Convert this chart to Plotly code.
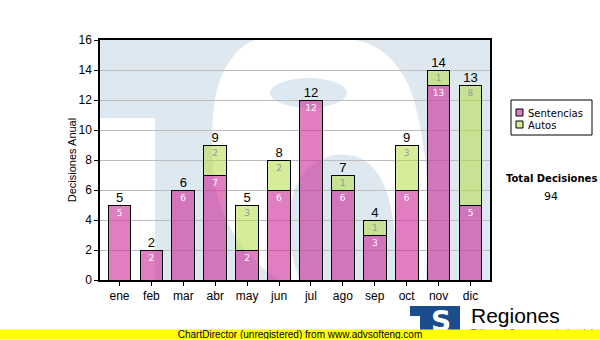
import plotly.graph_objects as go

# Monthly decisions, split by type
months = ["ene", "feb", "mar", "abr", "may", "jun", "jul", "ago", "sep", "oct", "nov", "dic"]
sentencias = [5, 2, 6, 7, 2, 6, 12, 6, 3, 6, 13, 5]
autos = [0, 0, 0, 2, 3, 2, 0, 1, 1, 3, 1, 8]
totals = [s + a for s, a in zip(sentencias, autos)]
y_ticks = [0, 2, 4, 6, 8, 10, 12, 14, 16]

SENT_COLOR = "rgba(204,40,150,0.6)"
AUTO_COLOR = "rgba(182,220,70,0.55)"
WM_BLUE = "#dde8f1"

# plot area in pixels
L, R, T, B = 100, 490, 40, 280
W, H = 600, 340


def px(x, y):
    return f"{(x - L) / (R - L):.4f},{(B - y) / (B - T):.4f}"


def path(cmds):
    return " ".join(c if isinstance(c, str) else px(*c) for c in cmds)


fig = go.Figure()

fig.add_trace(go.Bar(
    x=months, y=sentencias, name="Sentencias",
    marker=dict(color=SENT_COLOR, line=dict(color="black", width=1)),
    text=[str(v) if v else "" for v in sentencias],
    textposition="inside", insidetextanchor="end", textangle=0,
    textfont=dict(family="DejaVu Sans", size=9, color="white"),
    constraintext="none", hoverinfo="skip", showlegend=False,
))
fig.add_trace(go.Bar(
    x=months, y=autos, name="Autos",
    marker=dict(color=AUTO_COLOR, line=dict(color="black", width=1)),
    text=[str(v) if v else "" for v in autos],
    textposition="inside", insidetextanchor="end", textangle=0,
    textfont=dict(family="DejaVu Sans", size=9, color="#9a9a9a"),
    constraintext="none", hoverinfo="skip", showlegend=False,
))
fig.add_trace(go.Scatter(
    x=months, y=totals, mode="text", text=[str(t) for t in totals],
    textposition="top center",
    textfont=dict(family="Liberation Sans", size=13, color="black"),
    hoverinfo="skip", showlegend=False, cliponaxis=False,
))

shapes = []
# watermark logo behind the grid
shapes.append(dict(type="rect", xref="paper", yref="paper", x0=0, x1=1, y0=0, y1=1,
                   fillcolor=WM_BLUE, line_width=0, layer="below"))
shapes.append(dict(type="path", xref="paper", yref="paper", layer="below",
                   fillcolor="white", line_width=0,
                   path=path(["M", (255, 40), "L", (355, 40),
                              "C", (385, 45), (405, 70), (414, 100),
                              "C", (425, 140), (430, 190), (428, 230),
                              "L", (426, 280), "L", (280, 280),
                              "C", (245, 260), (220, 220), (214, 180),
                              "C", (210, 140), (212, 100), (220, 80),
                              "C", (228, 60), (240, 45), (255, 40), "Z"])))
shapes.append(dict(type="circle", xref="paper", yref="paper", layer="below",
                   fillcolor=WM_BLUE, line_width=0,
                   x0=(270 - L) / (R - L), x1=(347 - L) / (R - L),
                   y0=(B - 108) / (B - T), y1=(B - 78) / (B - T)))
shapes.append(dict(type="path", xref="paper", yref="paper", layer="below",
                   fillcolor=WM_BLUE, line_width=0,
                   path=path(["M", (300, 280),
                              "C", (282, 235), (282, 170), (330, 156),
                              "C", (378, 146), (398, 190), (396, 280), "Z"])))
shapes.append(dict(type="rect", xref="paper", yref="paper", layer="below",
                   fillcolor="white", line_width=0,
                   x0=0, x1=(155 - L) / (R - L), y0=0, y1=(B - 118) / (B - T)))


def box(x0, y0, x1, y1, **kw):
    return dict(type="rect", xref="paper", yref="paper",
                x0=(x0 - L) / (R - L), x1=(x1 - L) / (R - L),
                y0=(B - y1) / (B - T), y1=(B - y0) / (B - T), **kw)


# legend
shapes.append(box(511, 100, 592, 135, line=dict(color="black", width=1), fillcolor="white"))
shapes.append(box(516, 109, 523, 116, line=dict(color="black", width=1), fillcolor="#dc7cc0"))
shapes.append(box(516, 121, 523, 128, line=dict(color="black", width=1), fillcolor="#d6ec96"))
# bottom logo block
shapes.append(box(410, 306, 460, 332, line_width=0, fillcolor="#1b4c8e"))
shapes.append(box(410, 316, 420, 332, line_width=0, fillcolor="white"))

annotations = []


def label(x, y, text, size, xanchor="center", family="Liberation Sans", color="black", **kw):
    annotations.append(dict(x=(x - L) / (R - L), y=(B - y) / (B - T), xref="paper", yref="paper",
                            text=text, showarrow=False, xanchor=xanchor, yanchor="middle",
                            font=dict(family=family, size=size, color=color), **kw))


label(526, 113, "Sentencias", 10, xanchor="left", family="DejaVu Sans")
label(526, 126, "Autos", 10, xanchor="left", family="DejaVu Sans")
label(551, 178, "<b>Total Decisiones</b>", 10, family="DejaVu Sans")
label(551, 196, str(sum(totals)), 11, family="DejaVu Sans")
label(441, 321, "<b>S</b>", 28, family="DejaVu Sans", color="white")
label(469, 315, "Regiones", 21, xanchor="left")
label(468, 332.5, "Tribunal Supremo de Justicia", 9, xanchor="left", family="DejaVu Sans")
# yellow banner along the bottom edge of the page
annotations.append(dict(x=(W / 2 - L) / (R - L), y=(B - H) / (B - T), xref="paper", yref="paper",
                        xanchor="center", yanchor="bottom", showarrow=False,
                        text="ChartDirector (unregistered) from www.advsofteng.com",
                        font=dict(family="Liberation Sans", size=10, color="black"),
                        bgcolor="#ffff00", width=W, height=9, borderpad=0))

fig.update_layout(
    width=W, height=H,
    margin=dict(l=L, r=W - R, t=T, b=H - B, pad=0),
    paper_bgcolor="white", plot_bgcolor="rgba(0,0,0,0)",
    barmode="stack", bargap=0.29,
    shapes=shapes, annotations=annotations,
    showlegend=False,
    xaxis=dict(showline=True, linecolor="black", linewidth=1.5, mirror=True,
               ticks="outside", ticklen=4, tickcolor="black",
               tickfont=dict(family="Liberation Sans", size=12, color="black"),
               showgrid=False),
    yaxis=dict(range=[0, 16], tickvals=y_ticks, showline=True, linecolor="black",
               linewidth=1.5, mirror=True, ticks="outside", ticklen=4, tickcolor="black",
               tickfont=dict(family="Liberation Sans", size=12, color="black"),
               gridcolor="#bdbdbd", gridwidth=1, zeroline=False,
               title=dict(text="Decisiones Anual", standoff=0,
                          font=dict(family="Liberation Sans", size=11, color="black"))),
)

fig.write_html("out.html")
